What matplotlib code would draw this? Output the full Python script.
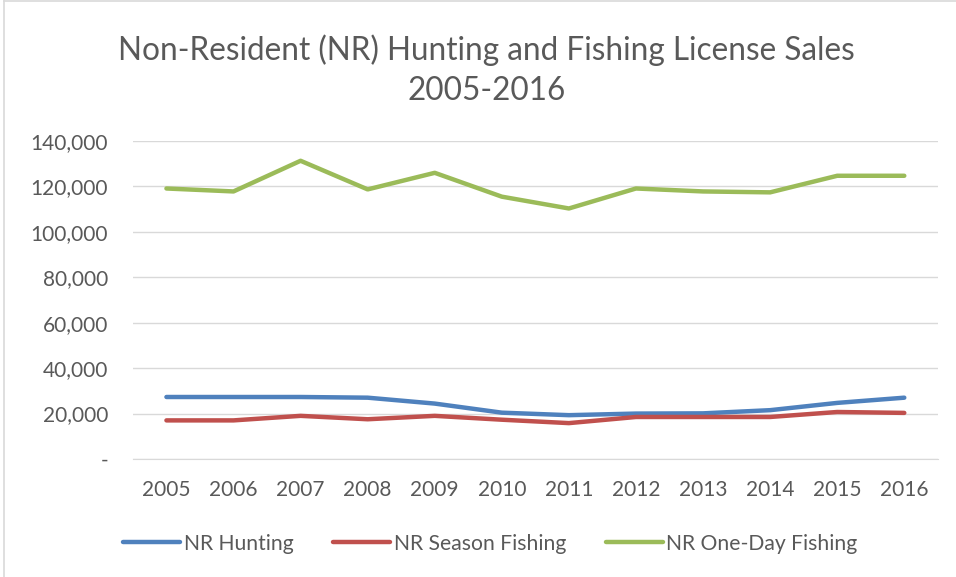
import matplotlib.pyplot as plt
from matplotlib.ticker import FuncFormatter
from matplotlib.lines import Line2D

years = [2005, 2006, 2007, 2008, 2009, 2010, 2011, 2012, 2013, 2014, 2015, 2016]
nr_hunting = [27300, 27300, 27300, 27000, 24400, 20400, 19300, 20000, 20100, 21500, 24700, 27000]
nr_season_fishing = [17000, 17000, 19000, 17500, 19000, 17300, 15800, 18500, 18500, 18500, 20700, 20300]
nr_one_day_fishing = [119100, 117800, 131300, 118700, 126000, 115500, 110300, 119100, 117800, 117400, 124700, 124700]

series_names = ["NR Hunting", "NR Season Fishing", "NR One-Day Fishing"]
colors = ["#4f81bd", "#c0504d", "#9bbb59"]
text_color = "#595959"

plt.rcParams['font.family'] = ['Lato', 'DejaVu Sans']

fig = plt.figure(figsize=(9.56, 5.77), dpi=100)
ax = fig.add_axes([0.139, 0.2045, 0.842, 0.5511])

for vals, name, c in zip([nr_hunting, nr_season_fishing, nr_one_day_fishing], series_names, colors):
    ax.plot(years, vals, color=c, lw=3.2, solid_capstyle='round', label=name, zorder=3)

ax.set_xlim(2004.5, 2016.5)
ax.set_ylim(0, 140000)
ax.set_yticks(range(0, 140001, 20000))
ax.set_xticks(years)
ax.yaxis.set_major_formatter(FuncFormatter(lambda v, p: "-" if v == 0 else f"{int(v):,}"))
ax.grid(axis='y', color='#d9d9d9', lw=1)
ax.set_axisbelow(True)
for s in ax.spines.values():
    s.set_visible(False)
ax.spines['bottom'].set_visible(True)
ax.spines['bottom'].set_color('#d9d9d9')
ax.tick_params(length=0, labelsize=15, labelcolor=text_color)
ax.tick_params(axis='y', pad=18)
ax.tick_params(axis='x', pad=15)

# two-line title, centred a little right of the figure middle like the original
fig.text(0.509, 0.913, "Non-Resident (NR) Hunting and Fishing License Sales", ha='center', va='center',
         fontsize=22.7, color=text_color)
fig.text(0.509, 0.843, "2005-2016", ha='center', va='center', fontsize=22.7, color=text_color)

handles = [Line2D([], [], color=c, lw=3.2, solid_capstyle='round') for c in colors]
fig.legend(handles, series_names, loc='center', bbox_to_anchor=(0.513, 0.058), ncol=3, frameon=False,
           fontsize=15.2, labelcolor=text_color, handlelength=2.7, handletextpad=0.15, columnspacing=1.9)

# chart border (top and left edges visible in the crop)
fig.add_artist(Line2D([0.004, 0.004], [0, 0.998], transform=fig.transFigure, color='#d9d9d9', lw=1.2))
fig.add_artist(Line2D([0.004, 1], [0.998, 0.998], transform=fig.transFigure, color='#d9d9d9', lw=1.2))

fig.savefig("out.png", dpi=100)
